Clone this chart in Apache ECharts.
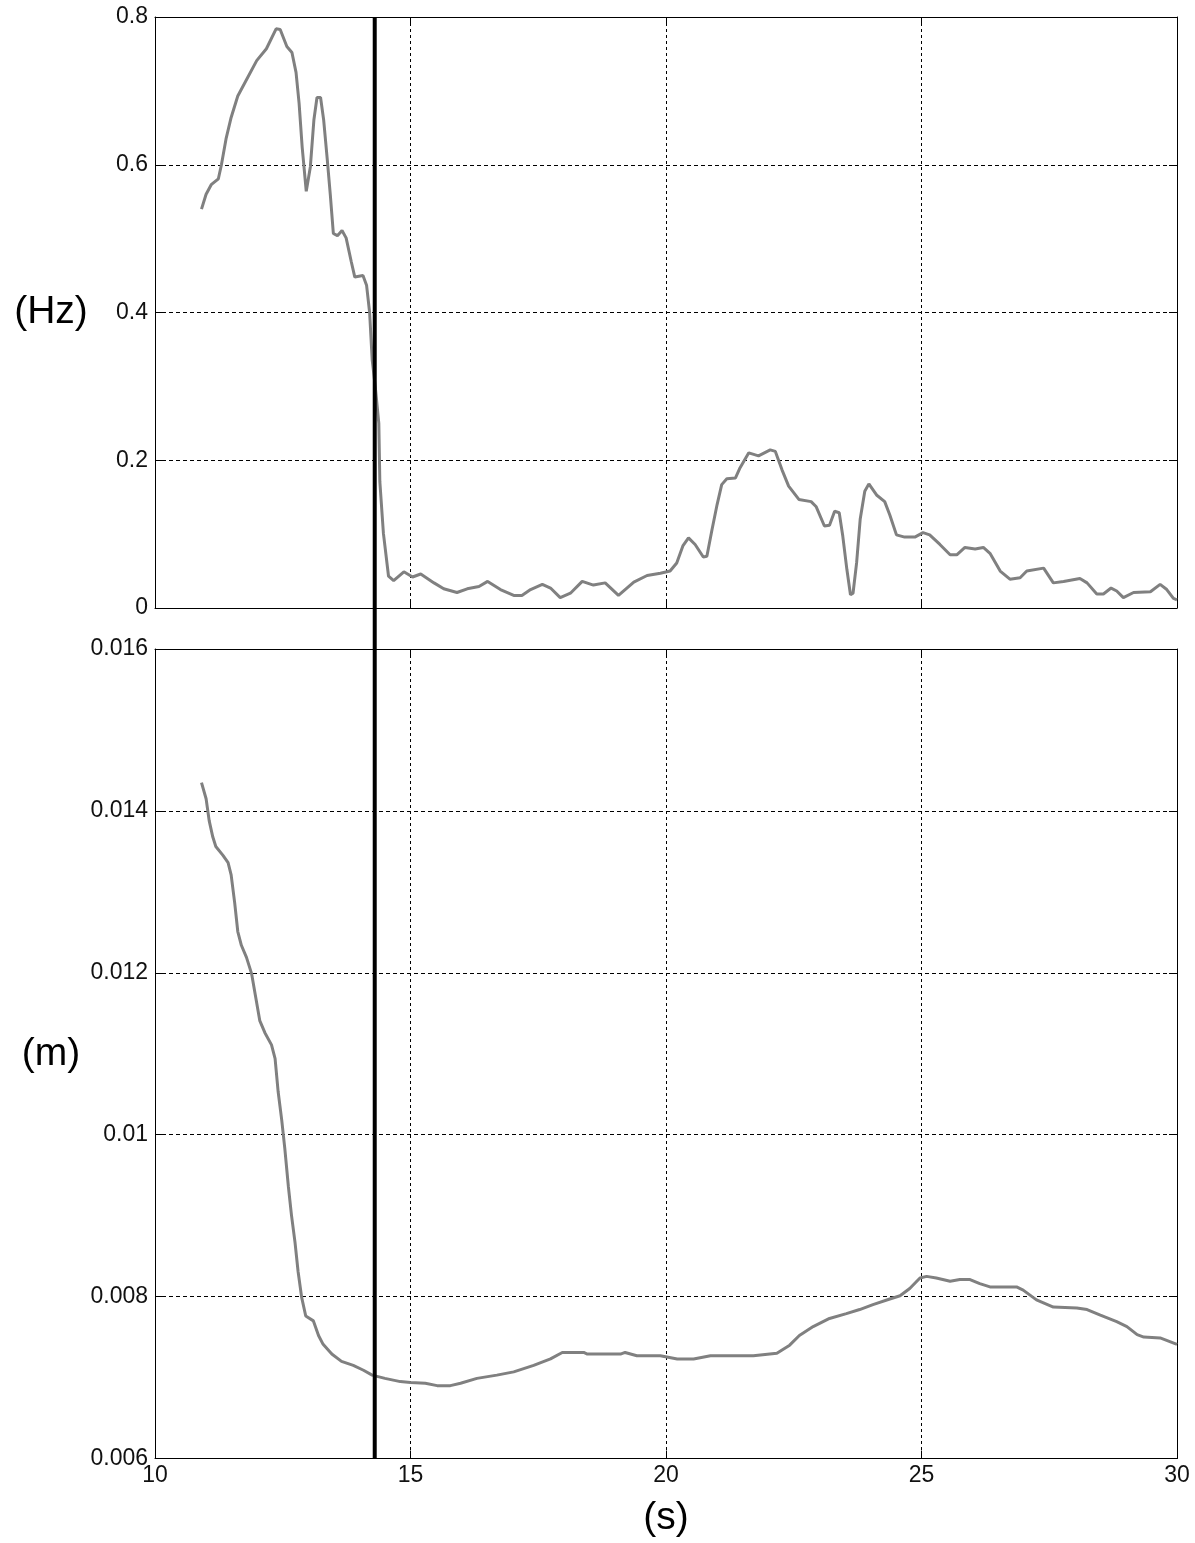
<!DOCTYPE html>
<html>
<head>
<meta charset="utf-8">
<script src="https://cdn.jsdelivr.net/npm/echarts@6/dist/echarts.min.js"></script>
<style>
html,body{margin:0;padding:0;background:#fff;}
#chart{width:1195px;height:1543px;}
</style>
</head>
<body>
<div id="chart"></div>
<script>
// ---- data ----
const topT = [10.91,11.0,11.1,11.24,11.3,11.39,11.49,11.62,11.79,11.99,12.18,12.37,12.45,12.58,12.68,12.76,12.82,12.88,12.96,13.04,13.11,13.17,13.24,13.30,13.37,13.43,13.49,13.57,13.66,13.74,13.84,13.91,14.07,14.14,14.20,14.25,14.31,14.38,14.40,14.47,14.57,14.67,14.87,15.04,15.2,15.46,15.65,15.91,16.11,16.34,16.51,16.76,17.02,17.18,17.35,17.58,17.74,17.93,18.13,18.36,18.58,18.81,19.07,19.37,19.63,19.89,20.08,20.21,20.33,20.44,20.57,20.73,20.80,20.90,21.00,21.09,21.19,21.36,21.45,21.62,21.81,22.04,22.14,22.27,22.40,22.60,22.84,22.94,23.10,23.20,23.30,23.39,23.46,23.54,23.61,23.66,23.73,23.80,23.89,23.97,24.12,24.28,24.38,24.51,24.67,24.87,25.03,25.16,25.36,25.56,25.69,25.85,26.05,26.21,26.34,26.54,26.73,26.93,27.06,27.39,27.58,27.78,28.10,28.24,28.43,28.56,28.71,28.82,28.95,29.15,29.48,29.67,29.80,29.93,30.00];
const topHz = [0.540,0.560,0.573,0.581,0.600,0.635,0.664,0.693,0.715,0.741,0.757,0.784,0.783,0.760,0.752,0.725,0.683,0.624,0.564,0.597,0.661,0.691,0.691,0.661,0.608,0.560,0.507,0.504,0.511,0.501,0.469,0.448,0.450,0.437,0.400,0.336,0.300,0.250,0.171,0.101,0.043,0.037,0.049,0.042,0.046,0.034,0.026,0.021,0.026,0.029,0.036,0.025,0.017,0.017,0.025,0.032,0.027,0.014,0.020,0.036,0.031,0.034,0.017,0.035,0.044,0.047,0.050,0.061,0.084,0.095,0.086,0.069,0.070,0.106,0.140,0.167,0.175,0.176,0.190,0.210,0.206,0.214,0.212,0.187,0.165,0.147,0.144,0.137,0.111,0.112,0.131,0.129,0.097,0.052,0.018,0.020,0.061,0.120,0.158,0.168,0.153,0.144,0.126,0.099,0.096,0.096,0.102,0.099,0.086,0.072,0.072,0.082,0.080,0.082,0.074,0.050,0.039,0.041,0.050,0.054,0.034,0.036,0.040,0.034,0.019,0.019,0.027,0.023,0.014,0.021,0.022,0.032,0.025,0.013,0.011];

const botT = [10.91,11.0,11.06,11.13,11.19,11.33,11.43,11.49,11.56,11.62,11.69,11.79,11.89,11.97,12.05,12.15,12.28,12.35,12.41,12.48,12.54,12.61,12.67,12.74,12.80,12.87,12.95,13.10,13.20,13.29,13.46,13.65,13.88,14.08,14.25,14.5,14.8,15.0,15.29,15.52,15.78,15.98,16.3,16.69,17.02,17.41,17.74,17.97,18.39,18.46,19.11,19.2,19.43,19.89,20.22,20.54,20.87,21.71,22.17,22.42,22.61,22.88,23.2,23.53,23.79,24.05,24.38,24.58,24.77,24.97,25.1,25.29,25.56,25.75,25.95,26.14,26.34,26.86,26.99,27.25,27.58,28.04,28.24,28.5,28.82,29.02,29.22,29.35,29.67,30.0];
const botM = [0.01435,0.01415,0.01388,0.01368,0.01356,0.01345,0.01336,0.01321,0.01286,0.01251,0.01234,0.01219,0.01199,0.01170,0.01141,0.01126,0.01111,0.01094,0.01053,0.01018,0.00983,0.00936,0.00901,0.00867,0.00831,0.00799,0.00776,0.00770,0.00752,0.00741,0.00729,0.00720,0.00715,0.00709,0.00703,0.00699,0.00695,0.00694,0.00693,0.00690,0.00690,0.00693,0.00699,0.00703,0.00707,0.00715,0.00723,0.00731,0.00731,0.00729,0.00729,0.00731,0.00727,0.00727,0.00723,0.00723,0.00727,0.00727,0.00730,0.00740,0.00752,0.00763,0.00773,0.00779,0.00784,0.00790,0.00797,0.00801,0.00810,0.00823,0.00825,0.00823,0.00819,0.00821,0.00821,0.00816,0.00812,0.00812,0.00808,0.00796,0.00787,0.00786,0.00784,0.00777,0.00769,0.00763,0.00753,0.00750,0.00749,0.00741];

const markerT = 14.3;
const xRange = [10, 30, 5];
const topRange = [0, 0.8, 0.2];
const botRange = [0.006, 0.016, 0.002];
const topName = '(Hz)';
const botName = '(m)';
const xName = '(s)';

// ---- chart ----
const FONT = 'Liberation Sans, Arial, sans-serif';
const chart = echarts.init(document.getElementById('chart'), null, {renderer: 'canvas'});

function xAx(grid, pos, showLabels, split, name) {
  return {
    type: 'value', gridIndex: grid, position: pos,
    min: xRange[0], max: xRange[1], interval: xRange[2],
    axisLine: {show: true, onZero: false, lineStyle: {color: '#000', width: 1}},
    axisTick: {show: true, inside: true, length: 8, lineStyle: {color: '#000'}},
    axisLabel: {show: showLabels, color: '#111', fontSize: 23, fontFamily: FONT, margin: 6},
    splitLine: {show: split, lineStyle: {color: '#000', type: [3, 3], width: 1}},
    name: name || '', nameLocation: 'middle', nameGap: 60,
    nameTextStyle: {fontSize: 39, fontFamily: FONT, color: '#000', verticalAlign: 'middle', align: 'center'}
  };
}
function yAx(grid, pos, r, showLabels, split, name) {
  return {
    type: 'value', gridIndex: grid, position: pos,
    min: r[0], max: r[1], interval: r[2],
    axisLine: {show: true, onZero: false, lineStyle: {color: '#000', width: 1}},
    axisTick: {show: true, inside: true, length: 8, lineStyle: {color: '#000'}},
    axisLabel: {show: showLabels, color: '#111', fontSize: 23, fontFamily: FONT, margin: 7,
      formatter: v => String(+v.toFixed(4))},
    splitLine: {show: split, lineStyle: {color: '#000', type: [4, 3], width: 1}},
    name: name || '', nameLocation: 'middle', nameGap: 104, nameRotate: 0,
    nameTextStyle: {fontSize: 39, fontFamily: FONT, color: '#000', align: 'center', verticalAlign: 'middle'}
  };
}

const option = {
  animation: false,
  backgroundColor: '#fff',
  grid: [
    {left: 155, top: 17, width: 1022, height: 591},
    {left: 155, top: 649, width: 1022, height: 811}
  ],
  xAxis: [
    xAx(0, 'bottom', false, true),
    xAx(0, 'top', false, false),
    xAx(1, 'bottom', true, true, xName),
    xAx(1, 'top', false, false)
  ],
  yAxis: [
    yAx(0, 'left', topRange, true, true, topName),
    yAx(0, 'right', topRange, false, false),
    yAx(1, 'left', botRange, true, true, botName),
    yAx(1, 'right', botRange, false, false)
  ],
  series: [
    {type: 'line', xAxisIndex: 0, yAxisIndex: 0, showSymbol: false, symbol: 'none',
     lineStyle: {color: '#808080', width: 3}, data: topT.map((t, i) => [t, topHz[i]]), z: 3},
    {type: 'line', xAxisIndex: 2, yAxisIndex: 2, showSymbol: false, symbol: 'none',
     lineStyle: {color: '#808080', width: 3}, data: botT.map((t, i) => [t, botM[i]]), z: 3}
  ]
};
chart.setOption(option);

const mx = chart.convertToPixel({xAxisIndex: 0}, markerT);
const yTop = chart.convertToPixel({yAxisIndex: 0}, topRange[1]);
const yBot = chart.convertToPixel({yAxisIndex: 2}, botRange[0]);
chart.setOption({
  graphic: [{
    type: 'line', z: 100,
    shape: {x1: mx, y1: yTop, x2: mx, y2: yBot},
    style: {stroke: '#000', lineWidth: 4}
  }]
});
</script>
</body>
</html>
